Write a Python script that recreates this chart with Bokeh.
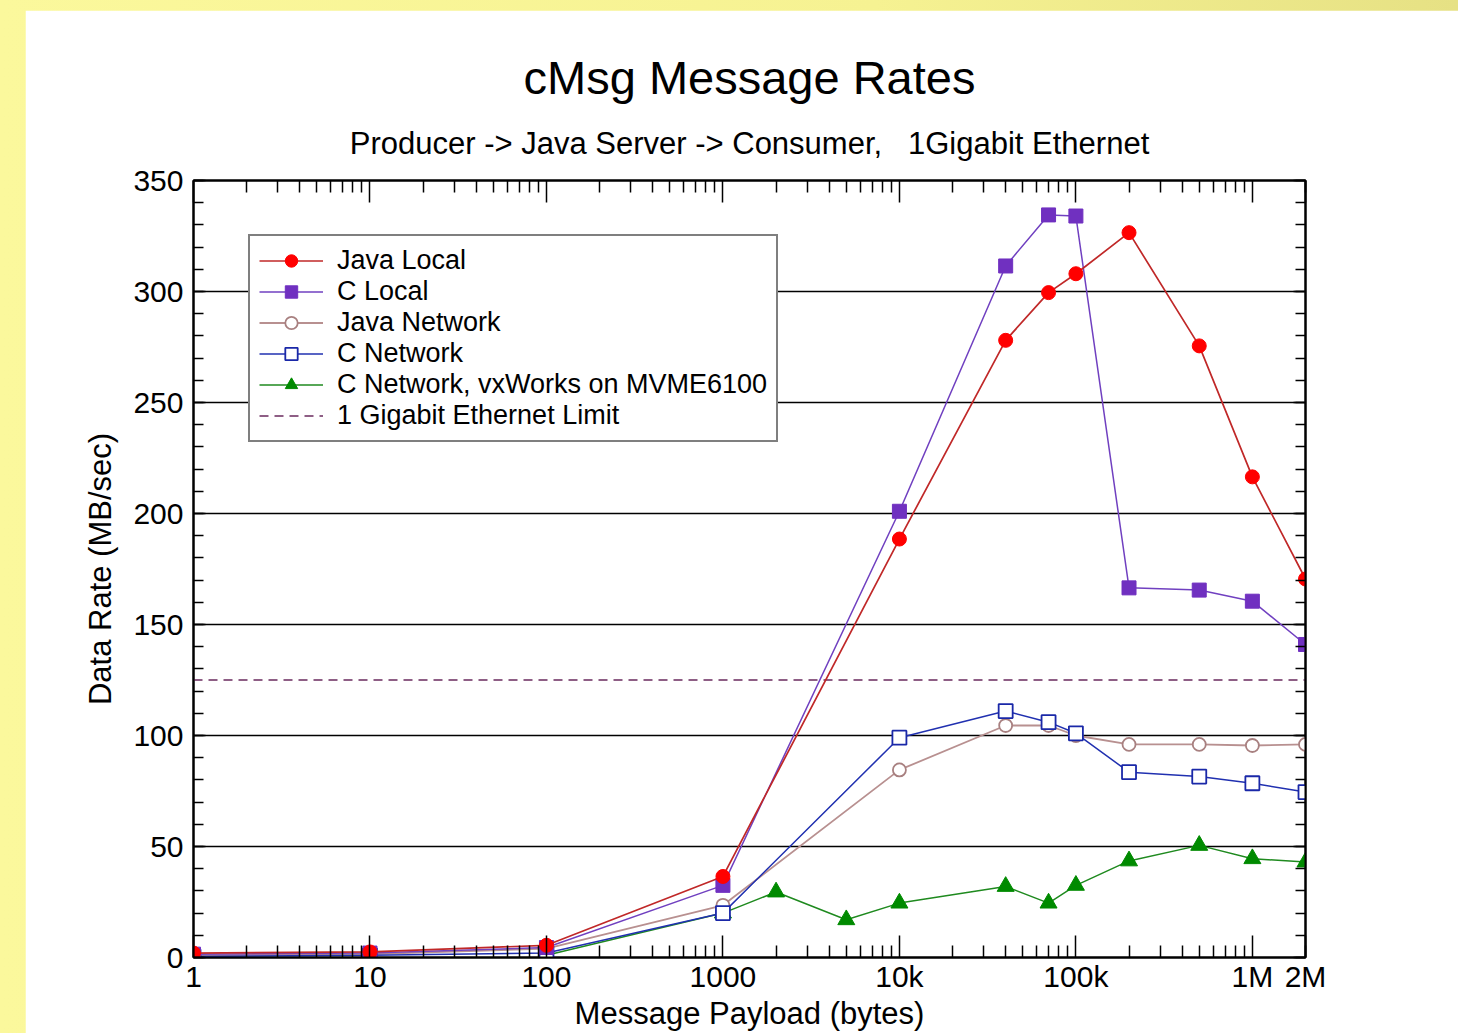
from bokeh.plotting import figure
from bokeh.models import (Range1d, LogAxis, LinearAxis, FixedTicker, SingleIntervalTicker, Grid,
                          Legend, LegendItem, Title, GlobalInlineStyleSheet, CustomJSTickFormatter)
from bokeh.embed import file_html
from bokeh.resources import INLINE

# ---------------- data ----------------
payload = [1, 10, 100, 1000, 10000, 40000, 70000, 100000, 200000, 500000, 1000000, 2000000]
java_local = [2, 2.5, 5.5, 36.5, 188.5, 278, 299.5, 308, 326.5, 275.5, 216.5, 170.5]
c_local = [1.5, 2, 4.5, 32.5, 201, 311.5, 334.5, 334, 166.5, 165.5, 160.5, 141]
java_network = [1, 1.5, 4, 23.5, 84.5, 104.5, 104.5, 100, 96, 96, 95.5, 96]
c_network = [0.5, 1, 2, 20, 99, 111, 106, 101, 83.5, 81.5, 78.5, 74.5]

vx_payload = [100, 1000, 2000, 5000, 10000, 40000, 70000, 100000, 200000, 500000, 1000000, 2000000]
vx_network = [1, 20, 29.5, 17, 24.5, 32, 24.5, 32.5, 43.5, 50.5, 44.5, 43]

gige_limit = 125
x_min, x_max = 1, 2000000
y_min, y_max = 0, 350

x_major = [1, 10, 100, 1000, 10000, 100000, 1000000, 2000000]
x_labels = ["1", "10", "100", "1000", "10k", "100k", "1M", "2M"]
x_minor = [m * d for d in [1, 10, 100, 1000, 10000, 100000] for m in range(2, 10)] + [2000000]

title_text = "cMsg Message Rates"
subtitle_text = "Producer -> Java Server -> Consumer,\u00a0\u00a0 1Gigabit Ethernet"
x_label = "Message Payload (bytes)"
y_label = "Data Rate (MB/sec)"

FONT = "Liberation Sans"

page_css = GlobalInlineStyleSheet(css="html, body { margin: 0 !important; padding: 0; background: linear-gradient(90deg, #fbf89c 0%, #f6f292 60%, #e6e184 100%); overflow: hidden; }")

p = figure(width=1433, height=1023, x_axis_type="log", y_axis_type="linear",
           x_axis_location=None, y_axis_location=None,
           x_range=Range1d(x_min, x_max), y_range=Range1d(y_min, y_max),
           output_backend="svg", toolbar_location=None, title=None,
           min_border_left=168, min_border_right=153, min_border_top=170, min_border_bottom=76,
           background_fill_color="white", border_fill_color="white")
p.margin = (10, 0, 0, 25)
p.stylesheets = [page_css]
p.outline_line_color = "black"
p.outline_line_width = 2
p.xgrid.grid_line_color = None
p.ygrid.grid_line_color = None

blank = CustomJSTickFormatter(code="return '';")
xt = FixedTicker(ticks=x_major, minor_ticks=x_minor)
yt = SingleIntervalTicker(interval=50, num_minor_ticks=5)

# bottom x axis
xax = LogAxis(ticker=xt, axis_label=x_label)
xax.major_label_overrides = {float(k): v for k, v in zip(x_major, x_labels)}
xax.major_label_text_font = FONT
xax.major_label_text_font_size = "30px"
xax.major_label_text_color = "black"
xax.major_label_standoff = 2
xax.major_tick_in = 22
xax.major_tick_out = 0
xax.minor_tick_in = 12
xax.minor_tick_out = 0
xax.major_tick_line_width = 1.5
xax.minor_tick_line_width = 1.5
xax.axis_line_width = 2
xax.axis_label_text_font = FONT
xax.axis_label_text_font_size = "31px"
xax.axis_label_text_font_style = "normal"
xax.axis_label_text_color = "black"
xax.axis_label_standoff = 0
p.add_layout(xax, "below")

# top axis first (closest to the frame)
top = LogAxis(ticker=xt, formatter=blank, major_tick_in=22, major_tick_out=0,
              minor_tick_in=12, minor_tick_out=0, major_tick_line_width=1.5,
              minor_tick_line_width=1.5, axis_line_width=2, major_label_standoff=0)
p.add_layout(top, "above")

# titles
sub = Title(text=subtitle_text, align="center", text_font=FONT, text_font_size="31px",
            text_font_style="normal", text_color="black", standoff=40)
main = Title(text=title_text, align="center", text_font=FONT, text_font_size="47px",
             text_font_style="normal", text_color="black", standoff=0)
p.add_layout(sub, "above")
p.add_layout(main, "above")

# left y axis
yax = LinearAxis(ticker=yt, axis_label=y_label)
yax.major_label_text_font = FONT
yax.major_label_text_font_size = "30px"
yax.major_label_text_color = "black"
yax.major_label_standoff = 10
yax.major_tick_in = 12
yax.major_tick_out = 0
yax.minor_tick_in = 10
yax.minor_tick_out = 0
yax.major_tick_line_width = 1.5
yax.minor_tick_line_width = 1.5
yax.axis_line_width = 2
yax.axis_label_text_font = FONT
yax.axis_label_text_font_size = "31px"
yax.axis_label_text_font_style = "normal"
yax.axis_label_text_color = "black"
yax.axis_label_standoff = 12
p.add_layout(yax, "left")

right = LinearAxis(ticker=yt, formatter=blank, major_tick_in=12, major_tick_out=0,
                   minor_tick_in=10, minor_tick_out=0, major_tick_line_width=1.5,
                   minor_tick_line_width=1.5, axis_line_width=2, major_label_standoff=0)
p.add_layout(right, "right")

grid = Grid(dimension=1, ticker=yt, grid_line_color="black", grid_line_width=1.5)
p.add_layout(grid)

# series
lim = p.line([x_min, x_max], [gige_limit, gige_limit], line_color="#6a2a5e", line_width=1.5,
             line_dash="9 6")

vx_l = p.line(vx_payload, vx_network, line_color="#1f8a1f", line_width=1.5)
vx_s = p.scatter(vx_payload, vx_network, marker="triangle", size=17, fill_color="#008a00",
                 line_color="#008a00")

jn_l = p.line(payload, java_network, line_color="#b89090", line_width=1.8)
jn_s = p.scatter(payload, java_network, marker="circle", size=13, fill_color="white",
                 line_color="#a88080", line_width=1.8)

cn_l = p.line(payload, c_network, line_color="#2030b0", line_width=1.5)
cn_s = p.scatter(payload, c_network, marker="square", size=14, fill_color="white",
                 line_color="#1a28a8", line_width=1.8)

cl_l = p.line(payload, c_local, line_color="#7040c0", line_width=1.5)
cl_s = p.scatter(payload, c_local, marker="square", size=14, fill_color="#7030c0",
                 line_color="#7030c0")

jl_l = p.line(payload, java_local, line_color="#c02828", line_width=1.7)
jl_s = p.scatter(payload, java_local, marker="circle", size=14, fill_color="#ff0000",
                 line_color="#ff0000")

legend = Legend(items=[
    LegendItem(label="Java Local", renderers=[jl_l, jl_s]),
    LegendItem(label="C Local", renderers=[cl_l, cl_s]),
    LegendItem(label="Java Network", renderers=[jn_l, jn_s]),
    LegendItem(label="C Network", renderers=[cn_l, cn_s]),
    LegendItem(label="C Network, vxWorks on MVME6100", renderers=[vx_l, vx_s]),
    LegendItem(label="1 Gigabit Ethernet Limit", renderers=[lim]),
], location=(55, 515), margin=0, padding=9, spacing=0,
    label_text_font=FONT, label_text_font_size="27px", label_text_color="black",
    label_height=31, glyph_height=31, glyph_width=64, label_standoff=14,
    border_line_color="black", border_line_width=2, background_fill_color="white",
    background_fill_alpha=1.0)
p.add_layout(legend, "center")

open("out.html", "w").write(file_html(p, INLINE))
